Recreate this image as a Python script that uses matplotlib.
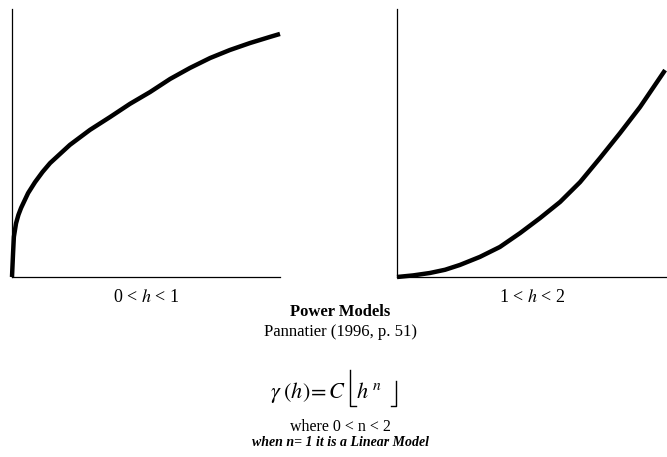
import matplotlib
matplotlib.use("Agg")
import matplotlib.pyplot as plt
from matplotlib.lines import Line2D

plt.rcParams['font.family'] = ['Liberation Serif', 'DejaVu Serif']
plt.rcParams['mathtext.fontset'] = 'stix'

# curve points (axes scaled 0..1)
h_low = [0, 0.004, 0.007, 0.015, 0.024, 0.034, 0.06, 0.086, 0.114, 0.142,
         0.216, 0.291, 0.366, 0.440, 0.515, 0.590, 0.664, 0.739, 0.813,
         0.888, 0.963, 1.0]
g_low = [0, 0.09, 0.15, 0.20, 0.232, 0.258, 0.313, 0.354, 0.392, 0.425,
         0.493, 0.549, 0.597, 0.646, 0.690, 0.739, 0.780, 0.817, 0.847,
         0.873, 0.896, 0.907]

h_high = [0, 0.06, 0.122, 0.178, 0.233, 0.307, 0.381, 0.456, 0.530, 0.604,
          0.678, 0.752, 0.826, 0.900, 0.993]
g_high = [0, 0.006, 0.015, 0.027, 0.045, 0.075, 0.112, 0.164, 0.220, 0.280,
          0.354, 0.444, 0.537, 0.634, 0.772]

labels = [r'0 < $\mathit{h}$ < 1', r'1 < $\mathit{h}$ < 2']

W, H = 667, 457
fig = plt.figure(figsize=(W / 100, H / 100), dpi=100)

def px_axes(x0, y0, x1, y1):
    return fig.add_axes([x0 / W, 1 - y1 / H, (x1 - x0) / W, (y1 - y0) / H])

ax1 = px_axes(12, 9, 280, 277)
ax2 = px_axes(397, 9, 667, 277)

for ax, hx, gy, lab in [(ax1, h_low, g_low, labels[0]), (ax2, h_high, g_high, labels[1])]:
    ax.plot(hx, gy, color='black', lw=3.2, solid_capstyle='butt',
            solid_joinstyle='round', clip_on=False)
    ax.set_xlim(0, 1)
    ax.set_ylim(0, 1)
    ax.spines['top'].set_visible(False)
    ax.spines['right'].set_visible(False)
    ax.spines['left'].set_linewidth(0.9)
    ax.spines['bottom'].set_linewidth(0.9)
    ax.set_xticks([])
    ax.set_yticks([])
    ax.set_xlabel(lab, fontsize=13, labelpad=9)

cx = 340 / W
fig.text(cx, 1 - 312 / H, 'Power Models', ha='center', va='center',
         fontsize=12, fontweight='bold')
fig.text(cx, 1 - 332 / H, 'Pannatier (1996, p. 51)', ha='center', va='center',
         fontsize=12)

# formula: gamma(h) = C [h^n], brackets drawn as tall strokes
fy = 1 - 398 / H
fig.text(346 / W, fy, r'$\gamma\;(h)\!=C$', ha='right', va='baseline', fontsize=16)
fig.text(356 / W, fy, r'$h^{\;n}$', ha='left', va='baseline', fontsize=16)
for xs, ys in [([350, 350, 356], [370, 406, 406]), ([396, 396, 391], [381, 406, 406])]:
    fig.add_artist(Line2D([x / W for x in xs], [1 - y / H for y in ys],
                          color='black', lw=1.0, transform=fig.transFigure))

fig.text(cx, 1 - 427 / H, 'where 0 < n < 2', ha='center', va='center',
         fontsize=11.5)
fig.text(cx, 1 - 443 / H, 'when n= 1 it is a Linear Model', ha='center',
         va='center', fontsize=10, fontweight='bold', fontstyle='italic')

fig.savefig('out.png', dpi=100)
